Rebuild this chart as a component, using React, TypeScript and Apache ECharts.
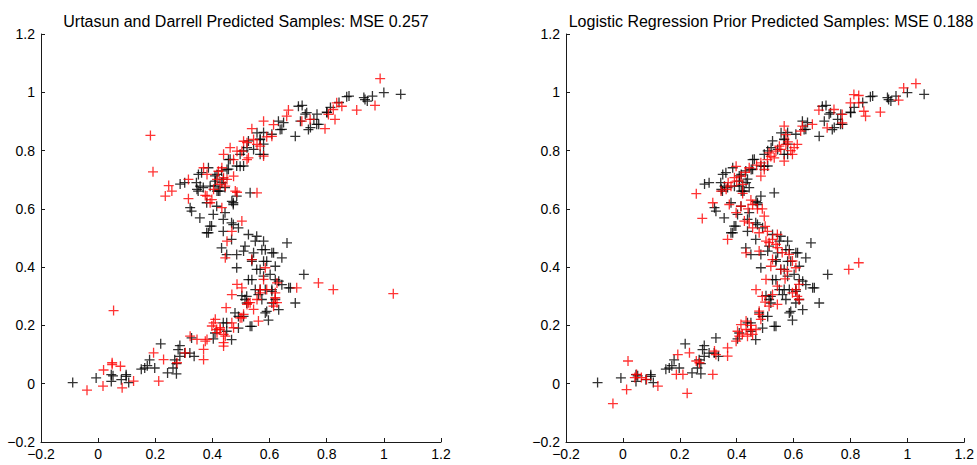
import React, { useEffect, useRef } from "react";
import * as echarts from "echarts";

const titles = [
  "Urtasun and Darrell Predicted Samples: MSE 0.257",
  "Logistic Regression Prior Predicted Samples: MSE 0.188",
];

const axisMin = -0.2;
const axisMax = 1.2;
const axisStep = 0.2;

// ground-truth samples (black), same in both panels
const truthPoints: number[][] = [
  [-0.089, 0.004], [-0.007, 0.02], [0.046, 0.008], [0.052, 0.027], [0.046, 0.031], [0.081, 0.014],
  [0.098, 0.025], [0.098, 0.031], [0.107, 0.004], [0.151, 0.05], [0.163, 0.054], [0.172, 0.062],
  [0.18, 0.082], [0.198, 0.054], [0.219, 0.137], [0.243, 0.037], [0.262, 0.054], [0.268, 0.082],
  [0.274, 0.034], [0.274, 0.069], [0.28, 0.117], [0.286, 0.131], [0.286, 0.094], [0.303, 0.105],
  [0.321, 0.105], [0.336, 0.094], [0.327, 0.157], [0.403, 0.154], [0.409, 0.174], [0.438, 0.209],
  [0.45, 0.18], [0.45, 0.209], [0.467, 0.151], [0.479, 0.243], [0.491, 0.231], [0.491, 0.191],
  [0.509, 0.231], [0.532, 0.197], [0.538, 0.197], [0.503, 0.302], [0.52, 0.277], [0.514, 0.289],
  [0.561, 0.306], [0.573, 0.289], [0.585, 0.243], [0.59, 0.248], [0.596, 0.218], [0.608, 0.277],
  [0.608, 0.317], [0.62, 0.289], [0.632, 0.254], [0.69, 0.277], [0.667, 0.329], [0.72, 0.375],
  [0.55, 0.323], [0.585, 0.323], [0.526, 0.357], [0.62, 0.357], [0.643, 0.34], [0.602, 0.375],
  [0.555, 0.392], [0.59, 0.42], [0.62, 0.403], [0.538, 0.42], [0.485, 0.398], [0.608, 0.449],
  [0.643, 0.432], [0.585, 0.46], [0.544, 0.449], [0.509, 0.455], [0.485, 0.443], [0.45, 0.443],
  [0.432, 0.466], [0.514, 0.472], [0.55, 0.489], [0.579, 0.489], [0.661, 0.483], [0.467, 0.495],
  [0.526, 0.512], [0.491, 0.535], [0.438, 0.523], [0.386, 0.518], [0.397, 0.541], [0.356, 0.569],
  [0.327, 0.592], [0.403, 0.581], [0.438, 0.564], [0.473, 0.546], [0.38, 0.621], [0.415, 0.609],
  [0.473, 0.615], [0.444, 0.587], [0.35, 0.661], [0.421, 0.661], [0.532, 0.655], [0.473, 0.621],
  [0.391, 0.541], [0.38, 0.518], [0.467, 0.552], [0.555, 0.506], [0.573, 0.46], [0.614, 0.449],
  [0.538, 0.426], [0.579, 0.42], [0.567, 0.392], [0.538, 0.357], [0.579, 0.369], [0.632, 0.352],
  [0.673, 0.329], [0.52, 0.3], [0.567, 0.323], [0.608, 0.323],
  [1.059, 0.993], [1.0, 0.999], [0.96, 0.987], [0.942, 0.97], [0.93, 0.982], [0.878, 0.987],
  [0.843, 0.965], [0.813, 0.948], [0.801, 0.93], [0.766, 0.925], [0.755, 0.907], [0.725, 0.925],
  [0.714, 0.955], [0.708, 0.901], [0.743, 0.879], [0.772, 0.89], [0.69, 0.849], [0.649, 0.896],
  [0.643, 0.873], [0.608, 0.856], [0.579, 0.862], [0.567, 0.839], [0.579, 0.822], [0.526, 0.833],
  [0.544, 0.804], [0.579, 0.787], [0.509, 0.799], [0.497, 0.787], [0.462, 0.77], [0.485, 0.747],
  [0.509, 0.747], [0.456, 0.736], [0.432, 0.73], [0.409, 0.713], [0.362, 0.724], [0.344, 0.69],
  [0.303, 0.69], [0.409, 0.679], [0.438, 0.702], [0.444, 0.673], [0.368, 0.673], [0.426, 0.661],
  [0.485, 0.644],
  [0.87, 0.985], [0.934, 0.975], [0.701, 0.952], [0.73, 0.93], [0.8, 0.932], [0.765, 0.89],
  [0.736, 0.872], [0.637, 0.872], [0.631, 0.901], [0.567, 0.838], [0.556, 0.861], [0.567, 0.787],
  [0.521, 0.81], [0.456, 0.769], [0.497, 0.746], [0.451, 0.735], [0.386, 0.741], [0.351, 0.718],
  [0.416, 0.718], [0.41, 0.695], [0.433, 0.69], [0.287, 0.685], [0.346, 0.667], [0.357, 0.678],
  [0.392, 0.678], [0.416, 0.661], [0.468, 0.626], [0.322, 0.604],
];

// Urtasun and Darrell predictions (red, left panel)
const urtasunPoints: number[][] = [
  [0.987, 1.047], [0.969, 0.955], [0.905, 0.939], [0.829, 0.907], [0.794, 0.875], [0.835, 0.964],
  [0.853, 0.952], [0.823, 0.941], [0.806, 0.924], [0.666, 0.939], [0.742, 0.907], [0.713, 0.901],
  [0.579, 0.901], [0.614, 0.889], [0.538, 0.875], [0.608, 0.849], [0.59, 0.847], [0.509, 0.832],
  [0.556, 0.821], [0.462, 0.81], [0.439, 0.787], [0.503, 0.798], [0.526, 0.775], [0.579, 0.781],
  [0.474, 0.769], [0.369, 0.741], [0.421, 0.729], [0.439, 0.707], [0.474, 0.712], [0.381, 0.718],
  [0.316, 0.701], [0.247, 0.68], [0.258, 0.661], [0.235, 0.644], [0.316, 0.635], [0.375, 0.646],
  [0.445, 0.678], [0.556, 0.655], [0.48, 0.661], [0.398, 0.632], [0.183, 0.852], [0.192, 0.727],
  [0.392, 0.621], [0.433, 0.604], [0.486, 0.657], [0.503, 0.558], [0.468, 0.523], [0.451, 0.489],
  [0.445, 0.432], [0.585, 0.398], [0.538, 0.426], [0.486, 0.341], [0.468, 0.306], [0.503, 0.329],
  [0.579, 0.358], [0.626, 0.346], [0.567, 0.323], [0.59, 0.323], [0.62, 0.295], [0.695, 0.329],
  [0.771, 0.346], [0.823, 0.323], [1.033, 0.309],
  [0.054, 0.251], [0.448, 0.261], [0.526, 0.278], [0.567, 0.312], [0.626, 0.278], [0.614, 0.266],
  [0.561, 0.215], [0.503, 0.226], [0.474, 0.192], [0.41, 0.221], [0.427, 0.192], [0.439, 0.169],
  [0.398, 0.198], [0.416, 0.175], [0.375, 0.146], [0.346, 0.152], [0.322, 0.163], [0.369, 0.118],
  [0.439, 0.129], [0.369, 0.083], [0.305, 0.106], [0.276, 0.072], [0.229, 0.083], [0.194, 0.106],
  [0.078, 0.06], [0.049, 0.066], [0.019, 0.047], [0.124, 0.009], [0.084, -0.014], [0.017, -0.008],
  [-0.039, -0.022], [0.212, 0.009], [0.049, 0.072], [0.381, 0.152], [0.404, 0.209], [0.427, 0.186],
  [0.439, 0.141], [0.521, 0.272], [0.509, 0.238],
  [0.66, 0.918], [0.544, 0.838], [0.521, 0.827], [0.567, 0.815], [0.486, 0.798], [0.521, 0.769],
  [0.433, 0.741], [0.416, 0.701], [0.427, 0.684], [0.451, 0.701], [0.404, 0.667], [0.381, 0.644],
  [0.415, 0.186], [0.445, 0.163], [0.468, 0.209], [0.497, 0.226], [0.532, 0.278], [0.556, 0.289],
  [0.614, 0.278], [0.62, 0.312], [0.544, 0.255],
];

// Logistic regression prior predictions (red, right panel)
const logisticPoints: number[][] = [
  [1.03, 1.03], [0.987, 1.015], [0.969, 0.973], [0.905, 0.932], [0.853, 0.918], [0.847, 0.935],
  [0.829, 0.964], [0.812, 0.992], [0.829, 0.989], [0.8, 0.964], [0.771, 0.924], [0.771, 0.895],
  [0.742, 0.941], [0.718, 0.878], [0.689, 0.939], [0.666, 0.89], [0.625, 0.867], [0.631, 0.884],
  [0.567, 0.884], [0.573, 0.855], [0.613, 0.821], [0.602, 0.81], [0.596, 0.787], [0.573, 0.821],
  [0.555, 0.804], [0.567, 0.764], [0.538, 0.798], [0.514, 0.792], [0.532, 0.775], [0.508, 0.769],
  [0.485, 0.758], [0.497, 0.735], [0.485, 0.712], [0.444, 0.741], [0.398, 0.746], [0.392, 0.707],
  [0.415, 0.712], [0.421, 0.684], [0.38, 0.678], [0.363, 0.667], [0.345, 0.661], [0.258, 0.652],
  [0.421, 0.653],
  [0.316, 0.621], [0.279, 0.567], [0.368, 0.495], [0.374, 0.615], [0.415, 0.609], [0.456, 0.615],
  [0.473, 0.6], [0.398, 0.587], [0.427, 0.558], [0.444, 0.552], [0.497, 0.575], [0.456, 0.535],
  [0.479, 0.518], [0.508, 0.523], [0.543, 0.512], [0.526, 0.495], [0.514, 0.484], [0.538, 0.478],
  [0.503, 0.489], [0.433, 0.449], [0.479, 0.455], [0.543, 0.467], [0.584, 0.444], [0.526, 0.426],
  [0.52, 0.403], [0.555, 0.392], [0.596, 0.421], [0.608, 0.398], [0.578, 0.386], [0.503, 0.358],
  [0.543, 0.335], [0.468, 0.323], [0.619, 0.341], [0.608, 0.323], [0.613, 0.3], [0.619, 0.289],
  [0.596, 0.312], [0.526, 0.306], [0.543, 0.272], [0.514, 0.266], [0.479, 0.249], [0.479, 0.238],
  [0.485, 0.221], [0.433, 0.215], [0.415, 0.203], [0.433, 0.186], [0.45, 0.186], [0.468, 0.186],
  [0.403, 0.18], [0.409, 0.163], [0.438, 0.163], [0.456, 0.169], [0.398, 0.146], [0.368, 0.123],
  [0.368, 0.095], [0.322, 0.112], [0.327, 0.1], [0.258, 0.078], [0.234, 0.106], [0.193, 0.1],
  [0.188, 0.032], [0.211, 0.032], [0.316, 0.032], [0.269, 0.072], [0.018, 0.078], [0.048, 0.032],
  [0.065, 0.021], [0.083, 0.015], [0.042, 0.021], [0.123, -0.008], [0.013, -0.02], [0.226, -0.033],
  [0.794, 0.392], [0.829, 0.415], [-0.035, -0.068],
  [0.59, 0.8], [0.58, 0.83], [0.55, 0.815], [0.52, 0.78], [0.47, 0.75], [0.43, 0.725],
  [0.4, 0.695], [0.37, 0.69], [0.45, 0.63], [0.44, 0.6], [0.49, 0.6], [0.5, 0.54],
  [0.56, 0.45], [0.57, 0.36], [0.49, 0.3], [0.5, 0.28], [0.45, 0.2], [0.42, 0.17],
];

const PLUS = "path://M0,5L10,5M5,0L5,10";
const FONT = "Liberation Sans, Arial, Helvetica, sans-serif";

function fmt(v: number): string {
  const r = Math.round(v * 10) / 10;
  return r < 0 ? "\u2212" + String(Math.abs(r)) : String(r);
}

export default function App() {
  const ref = useRef<HTMLDivElement>(null);
  useEffect(() => {
    if (!ref.current) return;
    const chart = echarts.init(ref.current, undefined, { renderer: "svg" });
    const grids = [
      { left: 41, top: 34, width: 400, height: 408 },
      { left: 566, top: 34, width: 400, height: 408 },
    ];
    const axisLine = { show: true, onZero: false, lineStyle: { color: "#1a1a1a", width: 1 } };
    const axisLabel = { color: "#000", fontSize: 14, fontFamily: FONT, formatter: fmt };
    const mk = (color: string, data: number[][], i: number, z: number) => ({
      type: "scatter",
      xAxisIndex: i,
      yAxisIndex: i,
      data,
      symbol: PLUS,
      symbolSize: 10,
      silent: true,
      z,
      itemStyle: { color: "rgba(0,0,0,0)", borderColor: color, borderWidth: 1.3 },
    });
    chart.setOption({
      animation: false,
      backgroundColor: "#fff",
      title: titles.map((t, i) => ({
        text: t,
        left: grids[i].left + grids[i].width / 2,
        top: 8,
        textAlign: "center",
        textStyle: { fontSize: 16, fontWeight: "normal", color: "#000", fontFamily: FONT },
      })),
      grid: grids,
      xAxis: grids.map((_, i) => ({
        type: "value",
        gridIndex: i,
        min: axisMin,
        max: axisMax,
        interval: axisStep,
        axisLine,
        axisTick: { show: true, inside: true, length: 4, lineStyle: { color: "#1a1a1a" } },
        axisLabel: { ...axisLabel, margin: 5 },
        splitLine: { show: false },
      })),
      yAxis: grids.map((_, i) => ({
        type: "value",
        gridIndex: i,
        min: axisMin,
        max: axisMax,
        interval: axisStep,
        axisLine,
        axisTick: { show: true, inside: true, length: 4, lineStyle: { color: "#1a1a1a" } },
        axisLabel: { ...axisLabel, margin: 6 },
        splitLine: { show: false },
      })),
      series: [
        mk("#000000", truthPoints, 0, 2),
        mk("#ff0000", urtasunPoints, 0, 3),
        mk("#000000", truthPoints, 1, 2),
        mk("#ff0000", logisticPoints, 1, 3),
      ],
    });
    return () => chart.dispose();
  }, []);
  return (
    <div
      ref={ref}
      style={{ position: "fixed", left: 0, top: 0, width: 977, height: 465, background: "#fff" }}
    />
  );
}
